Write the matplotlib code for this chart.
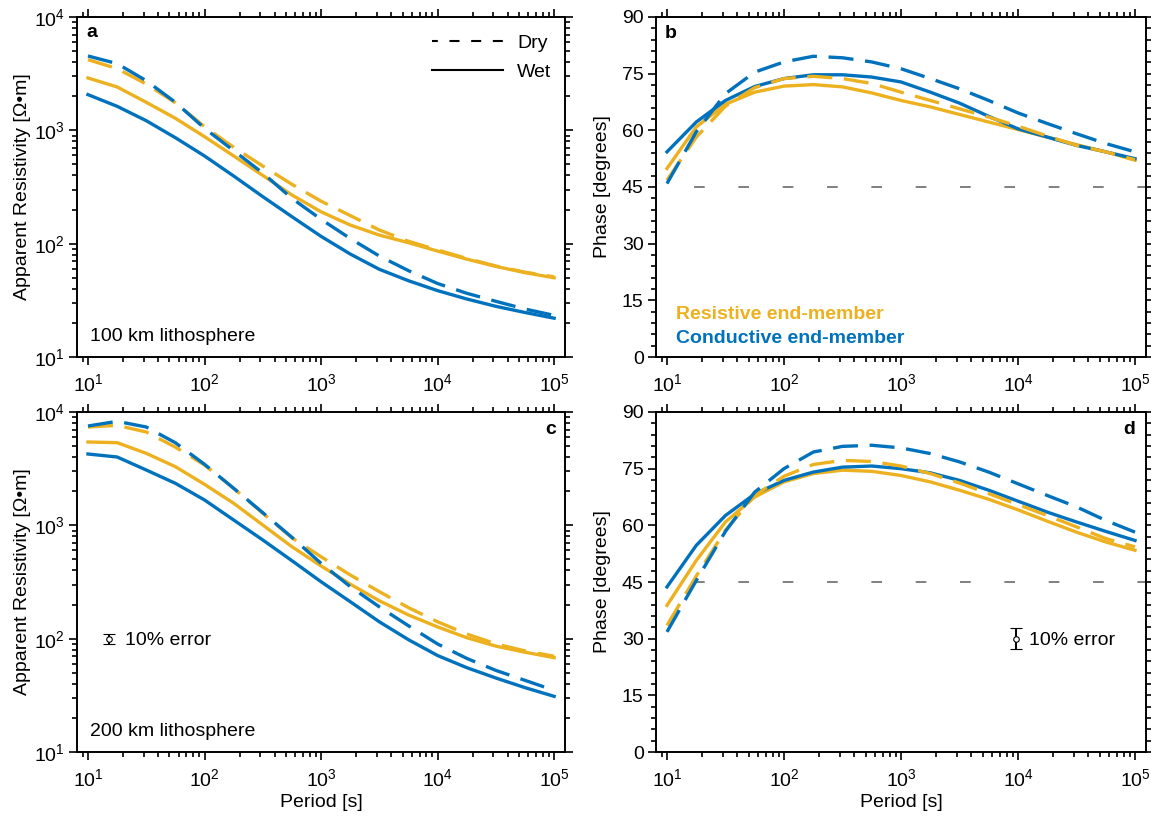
import numpy as np
import matplotlib
matplotlib.use("Agg")
import matplotlib.pyplot as plt
from matplotlib.lines import Line2D
from matplotlib.ticker import MultipleLocator, LogLocator, NullFormatter

plt.rcParams['font.family'] = ['Liberation Sans', 'DejaVu Sans']
plt.rcParams['mathtext.fontset'] = 'custom'
plt.rcParams['mathtext.rm'] = 'Liberation Sans'
plt.rcParams['mathtext.it'] = 'Liberation Sans:italic'

BLUE = '#0072BD'
ORANGE = '#EDB120'

# periods (s), quarter decade steps
period = [10, 17.8, 31.6, 56.2, 100, 178, 316, 562, 1000, 1780, 3160, 5620,
          10000, 17800, 31600, 56200, 100000]

# 100 km lithosphere - apparent resistivity (ohm m)
rho_a_res_dry = [4203, 3501, 2564, 1753, 1077, 708, 484, 334, 237, 177, 132, 105,
                 88, 74, 63.5, 56, 51]
rho_a_res_wet = [2896, 2412, 1767, 1277, 879, 594, 400, 269, 191, 146, 119, 102,
                 86, 73, 63, 55.5, 50]
rho_a_con_dry = [4529, 3875, 2741, 1767, 1042, 661, 420, 251, 164, 111, 77.8, 57.8,
                 44.5, 36.5, 31, 26.5, 23.3]
rho_a_con_wet = [2064, 1628, 1216, 861, 594, 395, 260, 173, 116, 81, 59.4, 47.1,
                 38.5, 32.5, 28, 24.7, 22]

# 100 km lithosphere - phase (deg)
ph_b_res_dry = [46.8, 58.2, 66.4, 71.3, 73.7, 74.3, 73.7, 72.4, 70.1, 67.9, 65.7, 63.5,
                61.1, 58.5, 56.0, 54.3, 52.2]
ph_b_res_wet = [49.9, 60.9, 66.9, 70.1, 71.7, 72.1, 71.5, 69.9, 67.9, 66.2, 64.2, 62.2,
                60.2, 58.2, 56.2, 54.3, 52.1]
ph_b_con_dry = [45.9, 59.6, 69.7, 75.4, 78.1, 79.6, 79.2, 78.1, 76.3, 73.7, 71.0, 67.9,
                64.6, 61.8, 59.1, 56.5, 54.3]
ph_b_con_wet = [54.3, 62.2, 67.9, 71.6, 73.7, 74.7, 74.7, 74.1, 72.8, 70.1, 67.2, 63.7,
                60.4, 58.2, 56.0, 54.3, 52.5]

# 200 km lithosphere - apparent resistivity (ohm m)
rho_c_res_dry = [7372, 7627, 6661, 4900, 3407, 2121, 1280, 778, 528, 365, 260, 188,
                 141, 110, 90, 78, 70]
rho_c_res_wet = [5437, 5363, 4318, 3293, 2300, 1565, 1007, 648, 438, 303, 216, 162,
                 127, 102, 86, 76, 68]
rho_c_con_dry = [7522, 8272, 7372, 5358, 3455, 2121, 1294, 784, 462, 288, 191, 130,
                 89.8, 67, 52.5, 42.9, 35]
rho_c_con_wet = [4260, 4008, 3078, 2349, 1674, 1114, 743, 488, 318, 212, 141, 98,
                 71, 55.5, 45, 37, 31]

# 200 km lithosphere - phase (deg)
ph_d_res_dry = [33.5, 46.6, 58.7, 67.9, 73.0, 76.1, 77.2, 76.9, 75.7, 73.7, 71.2, 68.4,
                65.5, 62.6, 59.6, 56.5, 54.3]
ph_d_res_wet = [38.8, 50.7, 60.9, 67.5, 71.5, 73.7, 74.6, 74.3, 73.2, 71.5, 69.3, 66.9,
                64.1, 61.1, 58.2, 55.6, 53.4]
ph_d_con_dry = [31.8, 45.4, 58.4, 68.8, 75.0, 79.4, 80.9, 81.2, 80.5, 79.0, 76.8, 74.1,
                71.0, 67.9, 64.9, 61.3, 58.2]
ph_d_con_wet = [43.7, 54.7, 62.6, 68.3, 71.9, 74.1, 75.4, 75.7, 75.0, 73.9, 71.9, 69.3,
                66.4, 63.5, 60.9, 58.4, 56.0]

# 10% error symbols
err_c = (15.2, 100, 10)      # period, rho, +/- rho
err_d = (9600, 30, 2.86)     # period, phase, +/- deg

xlim = (8.05, 1.24e5)
FS = 14
LW = 2.4
DASH = (0, (7.5, 3.5))

fig = plt.figure(figsize=(11.51, 8.16), dpi=100)
ax_a = fig.add_axes([0.0669, 0.5625, 0.4240, 0.4167])
ax_b = fig.add_axes([0.5699, 0.5625, 0.4257, 0.4167])
ax_c = fig.add_axes([0.0669, 0.0784, 0.4240, 0.4167])
ax_d = fig.add_axes([0.5699, 0.0784, 0.4257, 0.4167])


def draw(ax, rd, rw, cd, cw):
    ax.plot(period, rw, color=ORANGE, lw=LW, zorder=3)
    ax.plot(period, cw, color=BLUE, lw=LW, zorder=3)
    ax.plot(period, rd, color=ORANGE, lw=LW, ls=DASH, zorder=4)
    ax.plot(period, cd, color=BLUE, lw=LW, ls=DASH, zorder=4)


def style(ax, phase):
    ax.set_xscale('log')
    ax.set_xlim(*xlim)
    ax.xaxis.set_minor_locator(LogLocator(base=10, subs=np.arange(2, 10), numticks=20))
    ax.xaxis.set_minor_formatter(NullFormatter())
    if phase:
        ax.set_ylim(0, 90)
        ax.yaxis.set_major_locator(MultipleLocator(15))
        ax.yaxis.set_minor_locator(MultipleLocator(3))
        ax.set_ylabel('Phase [degrees]', fontsize=FS)
        ax.yaxis.set_label_coords(-0.092, 0.5)
        ax.plot([10, xlim[1]], [45, 45], color='#808080', lw=1.4,
                ls=(8.9, (5.5, 17.3)), zorder=1)
    else:
        ax.set_yscale('log')
        ax.set_ylim(10, 1e4)
        ax.yaxis.set_minor_locator(LogLocator(base=10, subs=np.arange(2, 10), numticks=20))
        ax.yaxis.set_minor_formatter(NullFormatter())
        ax.set_ylabel('Apparent Resistivity [Ω•m]', fontsize=FS)
        ax.yaxis.set_label_coords(-0.095, 0.5)
    ax.tick_params(which='both', direction='out', top=True, right=True,
                   labelsize=FS, width=1.2)
    ax.tick_params(axis='x', which='both', pad=6)
    ax.tick_params(axis='y', which='both', pad=3)
    ax.tick_params(which='major', length=5.8)
    ax.tick_params(which='minor', length=3.4)
    for s in ax.spines.values():
        s.set_linewidth(1.4)


draw(ax_a, rho_a_res_dry, rho_a_res_wet, rho_a_con_dry, rho_a_con_wet)
draw(ax_b, ph_b_res_dry, ph_b_res_wet, ph_b_con_dry, ph_b_con_wet)
draw(ax_c, rho_c_res_dry, rho_c_res_wet, rho_c_con_dry, rho_c_con_wet)
draw(ax_d, ph_d_res_dry, ph_d_res_wet, ph_d_con_dry, ph_d_con_wet)

style(ax_a, False)
style(ax_b, True)
style(ax_c, False)
style(ax_d, True)

ax_c.set_xlabel('Period [s]', fontsize=FS, labelpad=3)
ax_d.set_xlabel('Period [s]', fontsize=FS, labelpad=3)

# panel letters
ax_a.text(0.02, 0.941, 'a', transform=ax_a.transAxes, fontsize=14, fontweight='bold')
ax_b.text(0.018, 0.938, 'b', transform=ax_b.transAxes, fontsize=14, fontweight='bold')
ax_c.text(0.982, 0.935, 'c', transform=ax_c.transAxes, fontsize=14, fontweight='bold', ha='right')
ax_d.text(0.978, 0.935, 'd', transform=ax_d.transAxes, fontsize=14, fontweight='bold', ha='right')

ax_a.text(0.027, 0.047, '100 km lithosphere', transform=ax_a.transAxes, fontsize=FS)
ax_c.text(0.027, 0.047, '200 km lithosphere', transform=ax_c.transAxes, fontsize=FS)

ax_b.text(0.041, 0.112, 'Resistive end-member', transform=ax_b.transAxes,
          fontsize=FS, fontweight='bold', color=ORANGE)
ax_b.text(0.041, 0.041, 'Conductive end-member', transform=ax_b.transAxes,
          fontsize=FS, fontweight='bold', color=BLUE)

# legend
handles = [Line2D([], [], color='k', lw=1.5, ls=(2, (4.8, 5.6))),
           Line2D([], [], color='k', lw=1.5)]
ax_a.legend(handles, ['Dry', 'Wet'], loc='upper right', bbox_to_anchor=(0.972, 0.948),
            frameon=False, fontsize=FS, handlelength=3.65, handletextpad=0.72,
            labelspacing=0.55, borderpad=0, borderaxespad=0)

# error symbols
for ax, (x, y, e), off in [(ax_c, err_c, 11.5), (ax_d, err_d, 9.4)]:
    ax.errorbar([x], [y], yerr=[[e], [e]], fmt='o', ms=4, mfc='white', mec='k',
                mew=0.8, ecolor='k', elinewidth=1.4, capsize=4.5, capthick=1.4, zorder=5)
    ax.annotate('10% error', (x, y), xytext=(off, -4.5), textcoords='offset points',
                fontsize=FS, va='baseline', ha='left')

fig.savefig('out.png', dpi=100)
